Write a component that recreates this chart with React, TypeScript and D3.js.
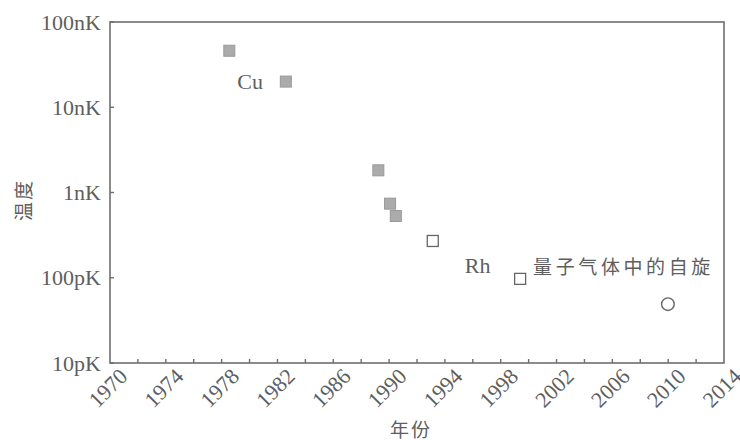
import React, { useEffect, useRef } from "react";
import * as d3 from "d3";

const years = [1978.55, 1982.6, 1989.23, 1990.07, 1990.48, 1993.13, 1999.39, 2009.98];
const temps = [4.6e-8, 2.0e-8, 1.82e-9, 7.4e-10, 5.3e-10, 2.7e-10, 9.7e-11, 4.9e-11];
const markerKinds = ["filled", "filled", "filled", "filled", "filled", "open", "open", "circle"];

const yTickValues = [1e-11, 1e-10, 1e-9, 1e-8, 1e-7];
const yTickLabels = ["10pK", "100pK", "1nK", "10nK", "100nK"];
const xLabelYears = [1970, 1974, 1978, 1982, 1986, 1990, 1994, 1998, 2002, 2006, 2010, 2014];

const annoTexts = ["Cu", "Rh", "量子气体中的自旋"];
const annoYears = [1980.04, 1996.35, 2000.32];
const annoTemps = [2.0e-8, 1.4e-10, 1.4e-10];
const annoAnchors = ["middle", "middle", "start"];

const W = 740, H = 440;
const M = { left: 110, right: 16, top: 22, bottom: 77 };
const SERIF = "'Liberation Serif', 'Times New Roman', serif";
const CJK = "'Noto Sans CJK SC', sans-serif";
const AXIS = "#6e6e6e";
const TEXT = "#5e5e5e";

export default function App() {
  const ref = useRef<SVGSVGElement>(null);
  useEffect(() => {
    const svg = d3.select(ref.current);
    svg.selectAll("*").remove();
    const x = d3.scaleLinear().domain([1970, 2014]).range([M.left, W - M.right]);
    const y = d3.scaleLog().domain([1e-11, 1e-7]).range([H - M.bottom, M.top]);

    svg.append("rect").attr("width", W).attr("height", H).attr("fill", "#fff");

    // frame
    svg.append("rect")
      .attr("x", x(1970)).attr("y", y(1e-7))
      .attr("width", x(2014) - x(1970)).attr("height", y(1e-11) - y(1e-7))
      .attr("fill", "none").attr("stroke", AXIS).attr("stroke-width", 1.6);

    // y ticks
    const g = svg.append("g");
    yTickValues.forEach((v, i) => {
      g.append("line").attr("x1", x(1970)).attr("x2", x(1970) + 4)
        .attr("y1", y(v)).attr("y2", y(v)).attr("stroke", AXIS).attr("stroke-width", 1.4);
      g.append("text").attr("x", x(1970) - 9).attr("y", y(v))
        .attr("text-anchor", "end").attr("dominant-baseline", "central")
        .attr("font-family", SERIF).attr("font-size", 22).attr("fill", TEXT)
        .text(yTickLabels[i]);
    });

    // x ticks every 2 years
    d3.range(1972, 2014, 2).forEach((yr) => {
      g.append("line").attr("x1", x(yr)).attr("x2", x(yr))
        .attr("y1", y(1e-11)).attr("y2", y(1e-11) - 4).attr("stroke", AXIS).attr("stroke-width", 1.4);
    });
    xLabelYears.forEach((yr) => {
      const cx = x(yr) - 2, cy = 388;
      g.append("text").attr("x", cx).attr("y", cy)
        .attr("text-anchor", "middle").attr("dominant-baseline", "central")
        .attr("transform", `rotate(-45 ${cx} ${cy})`)
        .attr("font-family", SERIF).attr("font-size", 22).attr("fill", TEXT)
        .text(String(yr));
    });

    // axis titles
    svg.append("text").attr("x", 411).attr("y", 428)
      .attr("text-anchor", "middle").attr("dominant-baseline", "central")
      .attr("font-family", CJK).attr("font-size", 19).attr("fill", TEXT).attr("letter-spacing", 2)
      .text("年份");
    svg.append("text").attr("x", 22).attr("y", 200)
      .attr("text-anchor", "middle").attr("dominant-baseline", "central")
      .attr("transform", "rotate(-90 22 200)")
      .attr("font-family", CJK).attr("font-size", 19).attr("fill", TEXT).attr("letter-spacing", 2)
      .text("温度");

    // markers
    years.forEach((yr, i) => {
      const cx = x(yr), cy = y(temps[i]);
      const k = markerKinds[i];
      if (k === "circle") {
        svg.append("circle").attr("cx", cx).attr("cy", cy).attr("r", 6.3)
          .attr("fill", "#fff").attr("stroke", "#666").attr("stroke-width", 1.4);
      } else if (k === "open") {
        const s = 11;
        svg.append("rect").attr("x", cx - s / 2).attr("y", cy - s / 2).attr("width", s).attr("height", s)
          .attr("fill", "#fff").attr("stroke", "#666").attr("stroke-width", 1.3);
      } else {
        const s = 11;
        svg.append("rect").attr("x", cx - s / 2).attr("y", cy - s / 2).attr("width", s).attr("height", s)
          .attr("fill", "#ababab").attr("stroke", "#999").attr("stroke-width", 1);
      }
    });

    // annotations
    annoTexts.forEach((t, i) => {
      const isCjk = /[\u4e00-\u9fff]/.test(t);
      svg.append("text").attr("x", x(annoYears[i])).attr("y", y(annoTemps[i]))
        .attr("text-anchor", annoAnchors[i]).attr("dominant-baseline", "central")
        .attr("font-family", isCjk ? CJK : SERIF).attr("font-size", isCjk ? 19 : 22)
        .attr("letter-spacing", isCjk ? 3.6 : 0)
        .attr("fill", TEXT).text(t);
    });
  }, []);

  return (
    <svg ref={ref} width={W} height={H}
      style={{ position: "absolute", left: 0, top: 0, display: "block" }} />
  );
}
